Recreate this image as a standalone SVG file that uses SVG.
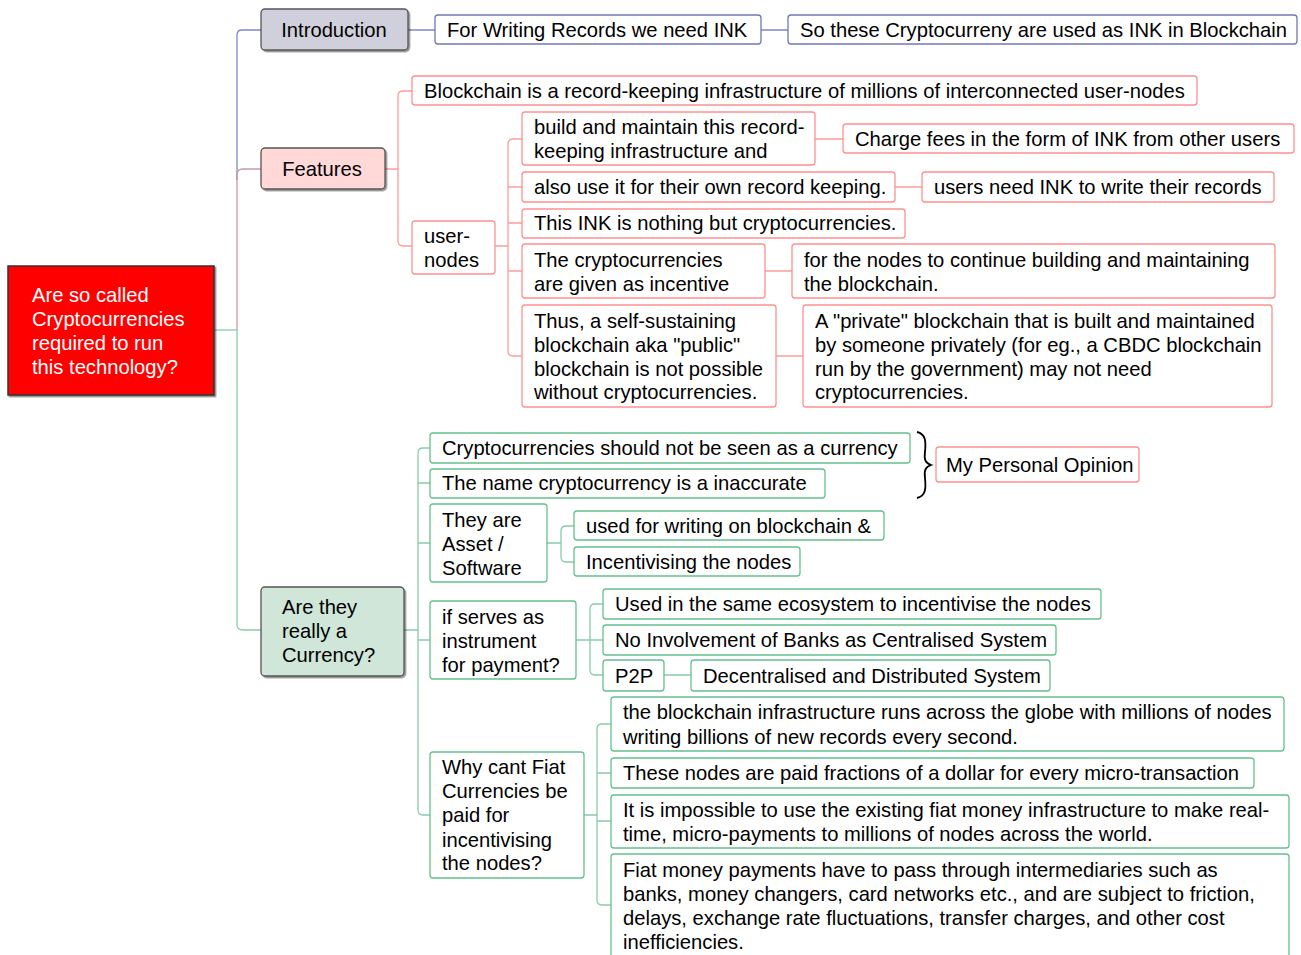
<svg xmlns="http://www.w3.org/2000/svg" width="1301" height="955" viewBox="0 0 1301 955">
<defs>
<style>
text{font-family:"Liberation Sans",Arial,sans-serif;font-size:20.2px;fill:#000}
.w{fill:#fff}
.c{text-anchor:middle}
.bb{fill:#fff;stroke:#7078b8;stroke-width:1.3}
.pb{fill:#fff;stroke:#ff9090;stroke-width:1.3}
.gb{fill:#fff;stroke:#66c08e;stroke-width:1.3}
.lb{fill:none;stroke:#8088c0;stroke-width:1.3}
.lp{fill:none;stroke:#ff9c9c;stroke-width:1.3}
.lg{fill:none;stroke:#88cca8;stroke-width:1.3}
.lm{fill:none;stroke:#c89aa4;stroke-width:1.3}
</style>
<filter id="sh" x="-10%" y="-10%" width="130%" height="130%"><feDropShadow dx="1.5" dy="1.5" stdDeviation="0.6" flood-color="#000" flood-opacity="0.45"/></filter>
</defs>
<rect width="1301" height="955" fill="#fff"/>
<g id="connectors">
<path class="lg" d="M214,330 H237"/>
<path class="lb" d="M237,180 V35 Q237,30 242,30 H261"/>
<path class="lm" d="M237,330 V175 Q237,169 243,169 H261"/>
<path class="lg" d="M237,330 V625 Q237,630 243,630 H261"/>
<path class="lb" d="M408,30 H435 M761,30 H788"/>
<path class="lp" d="M385,169 H398 M412,91 H403 Q398,91 398,96 V241 Q398,246 403,246 H412"/>
<path class="lp" d="M495,246 H508 M522,139 H513 Q508,139 508,144 V351 Q508,356 513,356 H522 M508,187 H522 M508,223 H522 M508,271 H522"/>
<path class="lp" d="M815,139 H843 M895,187 H922 M765,271 H792 M776,356 H803"/>
<path class="lg" d="M404,630 H418 M430,448 H423 Q418,448 418,453 V810 Q418,815 423,815 H430 M418,483 H430 M418,543 H430 M418,640 H430"/>
<path class="lg" d="M547,543 H561 M574,526 H566 Q561,526 561,531 V557 Q561,562 566,562 H574"/>
<path class="lg" d="M576,640 H590 M603,604 H595 Q590,604 590,609 V670 Q590,675 595,675 H603 M590,640 H603 M664,675 H691"/>
<path class="lg" d="M584,815 H597 M611,724 H602 Q597,724 597,729 V900 Q597,905 602,905 H611 M597,773 H611 M597,821 H611"/>
</g>
<g id="root">
<rect x="8" y="266" width="206" height="129" fill="#ff0000" stroke="#333" stroke-width="1.5" filter="url(#sh)"/>
<text class="w" x="32" y="302">Are so called</text>
<text class="w" x="32" y="326">Cryptocurrencies</text>
<text class="w" x="32" y="350">required to run</text>
<text class="w" x="32" y="374">this technology?</text>
</g>
<g id="intro">
<rect x="261" y="9" width="147" height="41" rx="4" fill="#d0d0dc" stroke="#555" stroke-width="1.3" filter="url(#sh)"/>
<text class="c" x="334" y="37">Introduction</text>
</g>
<g id="ink1"><rect class="bb" x="435" y="15" width="326" height="29" rx="3"/><text x="447" y="37">For Writing Records we need INK</text></g>
<g id="ink2"><rect class="bb" x="788" y="15" width="509" height="29" rx="3"/><text x="800" y="37">So these Cryptocurreny are used as INK in Blockchain</text></g>
<g id="features">
<rect x="261" y="148" width="124" height="41" rx="4" fill="#ffd8d8" stroke="#555" stroke-width="1.3" filter="url(#sh)"/>
<text class="c" x="322" y="176">Features</text>
</g>
<g id="f1"><rect class="pb" x="412" y="76" width="785" height="29" rx="3"/><text x="424" y="98">Blockchain is a record-keeping infrastructure of millions of interconnected user-nodes</text></g>
<g id="usernodes"><rect class="pb" x="412" y="221" width="83" height="53" rx="3"/><text x="424" y="243">user-</text><text x="424" y="267">nodes</text></g>
<g id="u1"><rect class="pb" x="522" y="112" width="293" height="53" rx="3"/><text x="534" y="134">build and maintain this record-</text><text x="534" y="158">keeping infrastructure and</text></g>
<g id="u1a"><rect class="pb" x="843" y="124" width="451" height="29" rx="3"/><text x="855" y="146">Charge fees in the form of INK from other users</text></g>
<g id="u2"><rect class="pb" x="522" y="172" width="373" height="30" rx="3"/><text x="534" y="194">also use it for their own record keeping.</text></g>
<g id="u2a"><rect class="pb" x="922" y="172" width="352" height="30" rx="3"/><text x="934" y="194">users need INK to write their records</text></g>
<g id="u3"><rect class="pb" x="522" y="209" width="383" height="29" rx="3"/><text x="534" y="230">This INK is nothing but cryptocurrencies.</text></g>
<g id="u4"><rect class="pb" x="522" y="244" width="243" height="54" rx="3"/><text x="534" y="267">The cryptocurrencies</text><text x="534" y="291">are given as incentive</text></g>
<g id="u4a"><rect class="pb" x="792" y="244" width="483" height="54" rx="3"/><text x="804" y="267">for the nodes to continue building and maintaining</text><text x="804" y="291">the blockchain.</text></g>
<g id="u5"><rect class="pb" x="522" y="305" width="254" height="102" rx="3"/><text x="534" y="328">Thus, a self-sustaining</text><text x="534" y="352">blockchain aka "public"</text><text x="534" y="376">blockchain is not possible</text><text x="534" y="399">without cryptocurrencies.</text></g>
<g id="u5a"><rect class="pb" x="803" y="305" width="469" height="102" rx="3"/><text x="815" y="328">A "private" blockchain that is built and maintained</text><text x="815" y="352">by someone privately (for eg., a CBDC blockchain</text><text x="815" y="376">run by the government) may not need</text><text x="815" y="399">cryptocurrencies.</text></g>
<g id="currency">
<rect x="261" y="587" width="143" height="89" rx="4" fill="#cfe6d8" stroke="#555" stroke-width="1.3" filter="url(#sh)"/>
<text x="282" y="614">Are they</text><text x="282" y="638">really a</text><text x="282" y="662">Currency?</text>
</g>
<g id="c1"><rect class="gb" x="430" y="433" width="480" height="30" rx="3"/><text x="442" y="455">Cryptocurrencies should not be seen as a currency</text></g>
<g id="c2"><rect class="gb" x="430" y="469" width="395" height="29" rx="3"/><text x="442" y="490">The name cryptocurrency is a inaccurate</text></g>
<g id="brace"><path d="M917,432 C926,434 926,442 925,452 C924,459 925,463 931,465 C925,467 924,471 925,478 C926,488 926,496 917,498" fill="none" stroke="#000" stroke-width="1.8"/></g>
<g id="opinion"><rect class="pb" x="936" y="447" width="203" height="35" rx="3"/><text x="946" y="472">My Personal Opinion</text></g>
<g id="c3"><rect class="gb" x="430" y="504" width="117" height="78" rx="3"/><text x="442" y="527">They are</text><text x="442" y="551">Asset /</text><text x="442" y="575">Software</text></g>
<g id="c3a"><rect class="gb" x="574" y="511" width="310" height="29" rx="3"/><text x="586" y="533">used for writing on blockchain &amp;</text></g>
<g id="c3b"><rect class="gb" x="574" y="547" width="226" height="29" rx="3"/><text x="586" y="569">Incentivising the nodes</text></g>
<g id="c4"><rect class="gb" x="430" y="601" width="146" height="78" rx="3"/><text x="442" y="624">if serves as</text><text x="442" y="648">instrument</text><text x="442" y="672">for payment?</text></g>
<g id="c4a"><rect class="gb" x="603" y="589" width="498" height="30" rx="3"/><text x="615" y="611">Used in the same ecosystem to incentivise the nodes</text></g>
<g id="c4b"><rect class="gb" x="603" y="625" width="453" height="30" rx="3"/><text x="615" y="647">No Involvement of Banks as Centralised System</text></g>
<g id="c4c"><rect class="gb" x="603" y="660" width="61" height="31" rx="3"/><text x="615" y="683">P2P</text></g>
<g id="c4d"><rect class="gb" x="691" y="660" width="359" height="31" rx="3"/><text x="703" y="683">Decentralised and Distributed System</text></g>
<g id="c5"><rect class="gb" x="430" y="752" width="154" height="126" rx="3"/><text x="442" y="774">Why cant Fiat</text><text x="442" y="798">Currencies be</text><text x="442" y="822">paid for</text><text x="442" y="847">incentivising</text><text x="442" y="870">the nodes?</text></g>
<g id="c5a"><rect class="gb" x="611" y="697" width="673" height="54" rx="3"/><text x="623" y="719">the blockchain infrastructure runs across the globe with millions of nodes</text><text x="623" y="744">writing billions of new records every second.</text></g>
<g id="c5b"><rect class="gb" x="611" y="758" width="643" height="30" rx="3"/><text x="623" y="780">These nodes are paid fractions of a dollar for every micro-transaction</text></g>
<g id="c5c"><rect class="gb" x="611" y="795" width="678" height="53" rx="3"/><text x="623" y="817">It is impossible to use the existing fiat money infrastructure to make real-</text><text x="623" y="841">time, micro-payments to millions of nodes across the world.</text></g>
<g id="c5d"><rect class="gb" x="611" y="854" width="678" height="115" rx="3"/><text x="623" y="877">Fiat money payments have to pass through intermediaries such as</text><text x="623" y="901">banks, money changers, card networks etc., and are subject to friction,</text><text x="623" y="925">delays, exchange rate fluctuations, transfer charges, and other cost</text><text x="623" y="949">inefficiencies.</text></g>
</svg>
